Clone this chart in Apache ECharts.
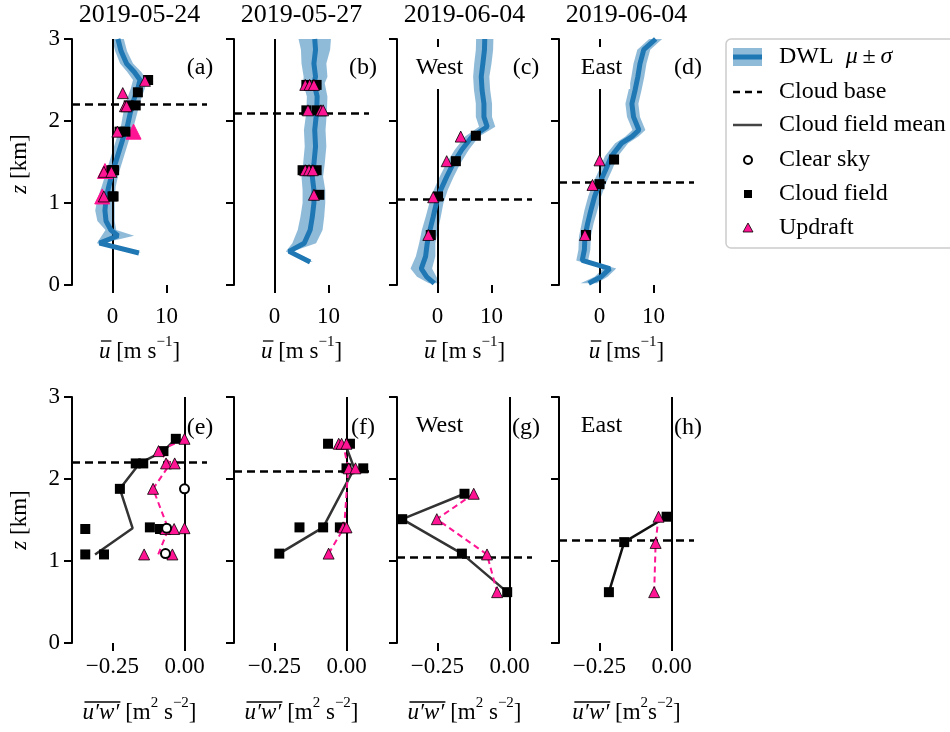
<!DOCTYPE html>
<html>
<head>
<meta charset="utf-8">
<script src="https://cdn.jsdelivr.net/npm/echarts@6/dist/echarts.min.js"></script>
<style>
  html, body { margin: 0; padding: 0; background: #fff; }
  #main { width: 950px; height: 732px; }
</style>
</head>
<body>
<div id="main"></div>
<script>
// ---------- panel text ----------
const titles = ['2019-05-24', '2019-05-27', '2019-06-04', '2019-06-04'];
const panelTags = ['(a)', '(b)', '(c)', '(d)', '(e)', '(f)', '(g)', '(h)'];
const sideTags = ['', '', 'West', 'East'];

// cloud base height per case [km]
const cloudBase = [2.2, 2.1, 1.05, 1.25];

// tick values
const uTicks = [0, 10];
const fluxTicks = [-0.25, 0];

// ---------- DWL wind profiles: height [km], mean u [m/s], std [m/s] ----------
const dwlZ_a    = [0.39, 0.51, 0.60, 0.67, 0.78, 0.91, 1.05, 1.20, 1.35, 1.50, 1.65, 1.80, 1.95, 2.10, 2.25, 2.40, 2.50, 2.60, 2.70, 2.85, 3.00];
const dwlMean_a = [4.9, -2.4, 1.0, -0.3, -1.2, -1.4, -1.2, -0.7, -0.1, 0.6, 1.3, 2.0, 2.8, 3.3, 3.9, 4.7, 5.1, 4.0, 2.6, 1.6, 1.0];
const dwlSd_a   = [0.4, 0.5, 3.0, 1.0, 1.6, 1.8, 1.6, 1.3, 1.2, 1.2, 1.2, 1.2, 1.2, 1.3, 1.3, 1.3, 1.3, 1.3, 1.2, 1.1, 1.1];

const dwlZ_b    = [0.28, 0.41, 0.51, 0.67, 0.83, 1.00, 1.16, 1.32, 1.48, 1.69, 1.89, 2.11, 2.30, 2.46, 2.54, 2.70, 2.87, 3.00];
const dwlMean_b = [6.6, 2.7, 5.5, 6.6, 7.0, 7.3, 7.3, 7.0, 7.3, 7.6, 7.45, 7.8, 7.9, 7.3, 7.6, 7.3, 7.6, 7.45];
const dwlSd_b   = [0.5, 0.6, 2.2, 2.3, 2.2, 2.1, 2.1, 2.0, 2.0, 2.0, 2.0, 1.9, 1.9, 2.0, 2.2, 2.3, 2.7, 3.0];

const dwlZ_c    = [0.02, 0.10, 0.20, 0.35, 0.51, 0.67, 0.83, 1.00, 1.16, 1.32, 1.48, 1.65, 1.81, 1.93, 2.05, 2.21, 2.38, 2.54, 2.70, 2.87, 3.00];
const dwlMean_c = [-0.6, -2.0, -3.0, -2.2, -1.9, -1.4, -0.8, -0.2, 0.6, 1.7, 2.9, 4.5, 6.4, 9.2, 8.6, 8.6, 8.25, 8.1, 8.4, 8.7, 8.75];
const dwlSd_c   = [1.0, 1.8, 2.0, 1.8, 1.5, 1.5, 1.4, 1.3, 1.3, 1.3, 1.3, 1.3, 1.3, 1.5, 1.5, 1.5, 1.5, 1.5, 1.6, 1.6, 1.6];

const dwlZ_d    = [0.02, 0.10, 0.20, 0.30, 0.43, 0.59, 0.75, 0.91, 1.08, 1.24, 1.40, 1.57, 1.73, 1.81, 1.89, 2.05, 2.21, 2.38, 2.54, 2.70, 2.87, 3.00];
const dwlMean_d = [-2.0, 0.3, 1.9, -3.2, -2.8, -2.7, -2.2, -1.6, -0.9, 0.0, 1.1, 2.2, 4.1, 6.0, 7.3, 6.3, 6.0, 6.6, 7.1, 7.5, 8.2, 10.4];
const dwlSd_d   = [1.5, 1.2, 1.2, 1.1, 1.1, 1.1, 1.1, 1.2, 1.2, 1.2, 1.2, 1.2, 1.2, 1.2, 1.2, 1.2, 1.2, 1.2, 1.2, 1.2, 1.2, 1.2];

// ---------- aircraft legs: mean wind u [m/s] vs height [km] ----------
const cloudU_a  = [[6.6, 2.50], [4.7, 2.35], [3.0, 2.19], [4.3, 2.19], [1.3, 1.87], [2.4, 1.87], [-0.2, 1.40], [0.1, 1.40], [0.3, 1.40], [0.0, 1.08], [0.2, 1.08]];
const updU_a    = [[6.0, 2.49], [1.9, 2.34], [2.3, 2.18], [2.6, 2.18], [0.9, 1.87], [-1.6, 1.38], [-0.2, 1.38], [-1.6, 1.08]];
const clearU_a  = [[3.9, 1.87], [-1.4, 1.39], [-1.9, 1.08]];

const cloudU_b  = [[5.9, 2.44], [7.8, 2.44], [5.9, 2.13], [7.8, 2.13], [5.2, 1.40], [6.5, 1.40], [7.8, 1.40], [8.3, 1.10]];
const updU_b    = [[5.7, 2.44], [6.5, 2.44], [7.3, 2.44], [6.2, 2.13], [8.6, 2.13], [9.0, 2.13], [5.7, 1.40], [6.4, 1.40], [7.1, 1.40], [7.3, 1.10]];

const cloudU_c  = [[7.1, 1.82], [3.4, 1.51], [0.1, 1.08], [-1.25, 0.61]];
const updU_c    = [[4.3, 1.81], [1.7, 1.51], [-0.8, 1.07], [-1.7, 0.61]];

const cloudU_d  = [[2.7, 1.53], [0.0, 1.23], [-2.5, 0.61]];
const updU_d    = [[0.0, 1.52], [-1.3, 1.22], [-2.7, 0.61]];

// ---------- aircraft legs: momentum flux u'w' [m2/s2] vs height [km] ----------
const cloudF_e  = [[-0.030, 2.49], [-0.073, 2.34], [-0.169, 2.19], [-0.143, 2.19], [-0.224, 1.88], [-0.344, 1.39], [-0.120, 1.41], [-0.085, 1.39], [-0.344, 1.08], [-0.279, 1.08]];
const updF_e    = [[0.0, 2.49], [-0.090, 2.34], [-0.064, 2.19], [-0.034, 2.19], [-0.109, 1.88], [-0.066, 1.39], [-0.036, 1.39], [0.0, 1.40], [-0.140, 1.08], [-0.042, 1.08]];
const clearF_e  = [[0.0, 1.88], [-0.062, 1.40], [-0.066, 1.09]];
const cloudMeanF_e = [[-0.31, 1.08], [-0.18, 1.40], [-0.224, 1.88], [-0.156, 2.19], [-0.073, 2.34], [-0.030, 2.49]];
const updMeanF_e   = [[-0.091, 1.08], [-0.056, 1.39], [-0.109, 1.88], [-0.049, 2.19], [-0.090, 2.34], [0.0, 2.49]];

const cloudF_f  = [[-0.064, 2.43], [0.012, 2.43], [0.0, 2.13], [0.058, 2.13], [-0.163, 1.41], [-0.081, 1.41], [-0.023, 1.41], [-0.233, 1.09]];
const updF_f    = [[-0.027, 2.43], [-0.017, 2.43], [0.0, 2.43], [0.008, 2.13], [0.031, 2.13], [-0.012, 1.41], [0.0, 1.41], [-0.062, 1.09]];
const cloudMeanF_f = [[-0.233, 1.09], [-0.081, 1.41], [0.027, 2.13], [-0.005, 2.43]];
const updMeanF_f   = [[-0.062, 1.09], [-0.008, 1.41], [0.006, 2.13], [-0.012, 2.43]];

const cloudF_g  = [[-0.156, 1.82], [-0.372, 1.51], [-0.165, 1.09], [-0.008, 0.62]];
const updF_g    = [[-0.124, 1.82], [-0.252, 1.51], [-0.078, 1.08], [-0.043, 0.62]];
const cloudMeanF_g = [[-0.156, 1.82], [-0.372, 1.51], [-0.165, 1.09], [-0.008, 0.62]];
const updMeanF_g   = [[-0.124, 1.82], [-0.252, 1.51], [-0.078, 1.08], [-0.043, 0.62]];

const cloudF_h  = [[-0.017, 1.54], [-0.164, 1.23], [-0.217, 0.62]];
const updF_h    = [[-0.045, 1.54], [-0.055, 1.22], [-0.060, 0.62]];
const cloudMeanF_h = [[-0.017, 1.54], [-0.164, 1.23], [-0.217, 0.62]];
const updMeanF_h   = [[-0.045, 1.54], [-0.055, 1.22], [-0.060, 0.62]];

// ---------- styling / layout ----------
const FONT = '"Liberation Serif", "Times New Roman", serif';
const BLUE = '#1f77b4';
const BAND = 'rgba(31,119,180,0.5)';
const PINK = '#ff1493';
const GRID_LEFT = [72, 234, 397, 559];
const GRID_W = 135;
const ROW_TOP = [39, 397];
const ROW_H = 246;
const U_RANGE = [-7.5, 17.5];
const F_RANGE = [-0.39, 0.078];

const profiles = [
  { z: dwlZ_a, m: dwlMean_a, s: dwlSd_a, cloud: cloudU_a, upd: updU_a, clear: clearU_a },
  { z: dwlZ_b, m: dwlMean_b, s: dwlSd_b, cloud: cloudU_b, upd: updU_b },
  { z: dwlZ_c, m: dwlMean_c, s: dwlSd_c, cloud: cloudU_c, upd: updU_c },
  { z: dwlZ_d, m: dwlMean_d, s: dwlSd_d, cloud: cloudU_d, upd: updU_d }
];
const fluxes = [
  { cloud: cloudF_e, upd: updF_e, clear: clearF_e, cm: cloudMeanF_e, um: updMeanF_e, meanColor: '#333333' },
  { cloud: cloudF_f, upd: updF_f, cm: cloudMeanF_f, um: updMeanF_f, meanColor: '#333333' },
  { cloud: cloudF_g, upd: updF_g, cm: cloudMeanF_g, um: updMeanF_g, meanColor: '#333333' },
  { cloud: cloudF_h, upd: updF_h, cm: cloudMeanF_h, um: updMeanF_h, meanColor: '#111111' }
];

const grids = [], xAxes = [], yAxes = [], series = [];

function fmtFlux(v) {
  if (v === 0) return '0.00';
  return (v < 0 ? '\u2212' : '') + Math.abs(v).toFixed(2);
}

for (let row = 0; row < 2; row++) {
  for (let c = 0; c < 4; c++) {
    const g = row * 4 + c;
    grids.push({ left: GRID_LEFT[c], top: ROW_TOP[row], width: GRID_W, height: ROW_H });
    const ticks = row === 0 ? uTicks : fluxTicks;
    xAxes.push({
      gridIndex: g, type: 'value',
      min: row === 0 ? U_RANGE[0] : F_RANGE[0],
      max: row === 0 ? U_RANGE[1] : F_RANGE[1],
      axisLine: { show: false, onZero: false },
      splitLine: { show: false },
      axisTick: { show: true, customValues: ticks, length: 8, inside: false, lineStyle: { color: '#000', width: 2 } },
      axisLabel: {
        show: true, customValues: ticks, margin: row === 0 ? 20 : 12,
        color: '#000', fontFamily: FONT, fontSize: 23,
        formatter: row === 0 ? (v => String(v)) : fmtFlux
      }
    });
    yAxes.push({
      gridIndex: g, type: 'value', min: 0, max: 3, interval: 1,
      axisLine: { show: true, onZero: false, lineStyle: { color: '#000', width: 2 } },
      axisTick: { show: true, length: 8, inside: false, lineStyle: { color: '#000', width: 2 } },
      axisLabel: { show: c === 0, margin: 12, color: '#000', fontFamily: FONT, fontSize: 23 },
      splitLine: { show: false }
    });
  }
}

function refLines(c) {
  return {
    silent: true, symbol: 'none', z: 2, animation: false,
    label: { show: false },
    emphasis: { disabled: true },
    data: [
      { xAxis: 0, lineStyle: { color: '#000', width: 2, type: 'solid' } },
      { yAxis: cloudBase[c], lineStyle: { color: '#000', width: 2.5, type: [8, 5] } }
    ]
  };
}

const markerSquare = { color: '#000', opacity: 1 };
const markerTri = { color: PINK, borderColor: '#000', borderWidth: 0.8, opacity: 1 };

// top row: DWL profiles with aircraft mean wind
profiles.forEach((p, c) => {
  const g = c;
  const lower = p.z.map((h, i) => [p.m[i] - p.s[i], h]);
  const upper = p.z.map((h, i) => [p.m[i] + p.s[i], h]);
  series.push({
    type: 'custom', name: 'DWL band', xAxisIndex: g, yAxisIndex: g, z: 1,
    data: p.z.map((h, i) => [p.m[i] - p.s[i], h, p.m[i] + p.s[i]]),
    encode: { x: [0, 2], y: 1 },
    clip: true, silent: true,
    renderItem: function (params, api) {
      if (params.dataIndex !== 0) return;
      const pts = [];
      lower.forEach(v => pts.push(api.coord(v)));
      for (let i = upper.length - 1; i >= 0; i--) pts.push(api.coord(upper[i]));
      return { type: 'polygon', shape: { points: pts }, style: { fill: BAND } };
    },
    markLine: refLines(c)
  });
  series.push({
    type: 'line', name: 'DWL', xAxisIndex: g, yAxisIndex: g, z: 3,
    data: p.z.map((h, i) => [p.m[i], h]),
    symbol: 'none', lineStyle: { color: BLUE, width: 5 }, clip: true, silent: true
  });
  if (p.clear) {
    series.push({
      type: 'scatter', name: 'Clear sky', xAxisIndex: g, yAxisIndex: g, z: 4,
      data: p.clear, symbol: 'triangle', symbolSize: 15,
      itemStyle: { color: PINK, borderColor: PINK, borderWidth: 1, opacity: 1 }, silent: true
    });
  }
  series.push({
    type: 'scatter', name: 'Cloud field', xAxisIndex: g, yAxisIndex: g, z: 5,
    data: p.cloud, symbol: 'rect', symbolSize: 10,
    itemStyle: markerSquare, silent: true
  });
  series.push({
    type: 'scatter', name: 'Updraft', xAxisIndex: g, yAxisIndex: g, z: 6,
    data: p.upd, symbol: 'triangle', symbolSize: 11,
    itemStyle: markerTri, silent: true
  });
});

// bottom row: momentum flux
fluxes.forEach((f, c) => {
  const g = 4 + c;
  series.push({
    type: 'line', name: 'Cloud field mean', xAxisIndex: g, yAxisIndex: g, z: 3,
    data: f.cm, symbol: 'none', lineStyle: { color: f.meanColor, width: 2.5 }, silent: true,
    markLine: refLines(c)
  });
  series.push({
    type: 'line', name: 'Updraft mean', xAxisIndex: g, yAxisIndex: g, z: 3,
    data: f.um, symbol: 'none', lineStyle: { color: PINK, width: 2, type: [6, 4] }, silent: true
  });
  series.push({
    type: 'scatter', name: 'Cloud field', xAxisIndex: g, yAxisIndex: g, z: 5,
    data: f.cloud, symbol: 'rect', symbolSize: 10,
    itemStyle: markerSquare, silent: true
  });
  series.push({
    type: 'scatter', name: 'Updraft', xAxisIndex: g, yAxisIndex: g, z: 6,
    data: f.upd, symbol: 'triangle', symbolSize: 11,
    itemStyle: markerTri, silent: true
  });
  if (f.clear) {
    series.push({
      type: 'scatter', name: 'Clear sky', xAxisIndex: g, yAxisIndex: g, z: 7,
      data: f.clear, symbol: 'circle', symbolSize: 9,
      itemStyle: { color: '#fff', borderColor: '#000', borderWidth: 2, opacity: 1 }, silent: true
    });
  }
});

// ---------- text and legend graphics ----------
const measureCtx = document.createElement('canvas').getContext('2d');
function textWidth(t, size, italic) {
  measureCtx.font = (italic ? 'italic ' : '') + size + 'px ' + FONT;
  return measureCtx.measureText(t).width;
}

const NAME_SIZE = 23, SUP_SIZE = 15;
const richBase = {
  n: { fontFamily: FONT, fontSize: NAME_SIZE, lineHeight: 34, fill: '#000' },
  i: { fontFamily: FONT, fontSize: NAME_SIZE, fontStyle: 'italic', lineHeight: 34, fill: '#000' },
  s: { fontFamily: FONT, fontSize: SUP_SIZE, lineHeight: 16, verticalAlign: 'top', fill: '#000' }
};

// parts: [[text, styleKey]], first part carries the overbar
function overbarLabel(cx, cy, parts) {
  let total = 0;
  const widths = parts.map(([t, k]) => {
    const w = textWidth(t, k === 's' ? SUP_SIZE : NAME_SIZE, k === 'i');
    total += w; return w;
  });
  const x0 = cx - total / 2;
  const richText = parts.map(([t, k]) => '{' + k + '|' + t + '}').join('');
  return [
    { type: 'text', z: 100, style: { text: richText, x: cx, y: cy, align: 'center', verticalAlign: 'middle', rich: richBase } },
    { type: 'line', z: 100, shape: { x1: x0 + 2, y1: cy - 11, x2: x0 + widths[0] + 1, y2: cy - 11 }, style: { stroke: '#000', lineWidth: 1.3 } }
  ];
}

const graphics = [];
const centers = GRID_LEFT.map(l => l + GRID_W / 2);

titles.forEach((t, c) => {
  graphics.push({ type: 'text', z: 100, style: { text: t, x: centers[c], y: 15, align: 'center', verticalAlign: 'middle', font: '26px ' + FONT, fill: '#000' } });
});

const tagX = [200, 363, 526, 688];
panelTags.forEach((t, k) => {
  const c = k % 4, row = Math.floor(k / 4);
  graphics.push({ type: 'text', z: 100, style: { text: t, x: tagX[c], y: row === 0 ? 68 : 428, align: 'center', verticalAlign: 'middle', font: '24px ' + FONT, fill: '#000' } });
});

sideTags.forEach((t, c) => {
  if (!t) return;
  graphics.push({ type: 'text', z: 100, style: { text: t, x: centers[c] - 25, y: 68, align: 'center', verticalAlign: 'middle', font: '24px ' + FONT, fill: '#000', backgroundColor: '#fff', padding: [9, 8] } });
  graphics.push({ type: 'text', z: 100, style: { text: t, x: centers[c] - 25, y: 426, align: 'center', verticalAlign: 'middle', font: '24px ' + FONT, fill: '#000' } });
});

// x-axis names
centers.forEach((cx, c) => {
  const unitTop = c === 3 ? [[' [ms', 'n'], ['\u22121', 's'], [']', 'n']] : [[' [m s', 'n'], ['\u22121', 's'], [']', 'n']];
  overbarLabel(cx, 352, [['u', 'i']].concat(unitTop)).forEach(e => graphics.push(e));
  const unitBot = c === 3
    ? [[' [m', 'n'], ['2', 's'], ['s', 'n'], ['\u22122', 's'], [']', 'n']]
    : [[' [m', 'n'], ['2', 's'], [' s', 'n'], ['\u22122', 's'], [']', 'n']];
  overbarLabel(cx, 713, [['u\u2032w\u2032', 'i']].concat(unitBot)).forEach(e => graphics.push(e));
});

// y-axis names
[164, 520].forEach(y => {
  graphics.push({
    type: 'text', z: 100, x: 20, y: y, rotation: Math.PI / 2,
    style: { text: '{i|z}{n| [km]}', align: 'center', verticalAlign: 'middle', rich: richBase }
  });
});

// legend
const LX = 733, LTX = 779;
const legendRows = [57, 92, 125, 160, 194, 228];
const legRich = {
  n: { fontFamily: FONT, fontSize: 24, fill: '#000' },
  i: { fontFamily: FONT, fontSize: 24, fontStyle: 'italic', fill: '#000' }
};
graphics.push({ type: 'rect', z: 90, shape: { x: 726, y: 39, width: 240, height: 209, r: 5 }, style: { fill: '#fff', stroke: '#cccccc', lineWidth: 1.5 } });
graphics.push({ type: 'rect', z: 91, shape: { x: LX, y: legendRows[0] - 9, width: 29, height: 18 }, style: { fill: BAND } });
graphics.push({ type: 'line', z: 92, shape: { x1: LX, y1: legendRows[0], x2: LX + 29, y2: legendRows[0] }, style: { stroke: BLUE, lineWidth: 5 } });
graphics.push({ type: 'line', z: 92, shape: { x1: LX, y1: legendRows[1], x2: LX + 29, y2: legendRows[1] }, style: { stroke: '#000', lineWidth: 2.5, lineDash: [7, 5] } });
graphics.push({ type: 'line', z: 92, shape: { x1: LX, y1: legendRows[2], x2: LX + 29, y2: legendRows[2] }, style: { stroke: '#444', lineWidth: 2.5 } });
graphics.push({ type: 'circle', z: 92, shape: { cx: LX + 15, cy: legendRows[3], r: 4 }, style: { fill: '#fff', stroke: '#000', lineWidth: 2 } });
graphics.push({ type: 'rect', z: 92, shape: { x: LX + 11, y: legendRows[4] - 4, width: 8, height: 8 }, style: { fill: '#000' } });
graphics.push({ type: 'polygon', z: 92, shape: { points: [[LX + 15, legendRows[5] - 5], [LX + 20, legendRows[5] + 4], [LX + 10, legendRows[5] + 4]] }, style: { fill: PINK, stroke: '#000', lineWidth: 0.8 } });
const legendTexts = ['{n|DWL  }{i|\u03bc}{n|\u2009\u00b1\u2009}{i|\u03c3}', 'Cloud base', 'Cloud field mean', 'Clear sky', 'Cloud field', 'Updraft'];
legendTexts.forEach((t, k) => {
  graphics.push({ type: 'text', z: 92, style: { text: t, x: LTX, y: legendRows[k], align: 'left', verticalAlign: 'middle', font: '24px ' + FONT, fill: '#000', rich: k === 0 ? legRich : undefined } });
});

const chart = echarts.init(document.getElementById('main'), null, { renderer: 'canvas' });
chart.setOption({
  animation: false,
  backgroundColor: '#fff',
  grid: grids,
  xAxis: xAxes,
  yAxis: yAxes,
  series: series,
  graphic: { elements: graphics }
});
</script>
</body>
</html>
